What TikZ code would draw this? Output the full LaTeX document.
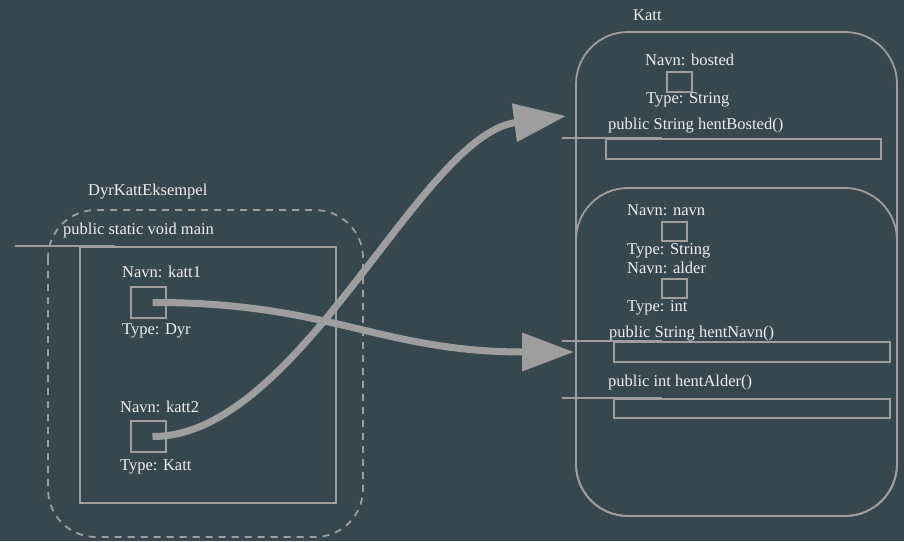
\documentclass[tikz,border=0pt]{standalone}
\usepackage{fontspec}
\setmainfont{Liberation Serif}
\usetikzlibrary{arrows.meta}
\definecolor{bgc}{HTML}{37474F}
\definecolor{linec}{HTML}{9E9E9E}
\definecolor{txtc}{HTML}{EEEEEE}
\tikzset{
  lbl/.style={anchor=base west, inner sep=0pt, text=txtc, font=\fontsize{16.5}{19}\selectfont},
  thin/.style={draw=linec, line width=1.8pt},
  varbox/.style={thin, inner sep=0pt},
  methodbox/.style={thin, inner sep=0pt, minimum width=275pt, minimum height=20pt},
  conn/.style={draw=linec, line width=7pt, -{Triangle[length=52pt,width=37pt]}},
}
\begin{document}
\begin{tikzpicture}[x=1pt,y=-1pt]
\useasboundingbox (0,0) rectangle (904,541);
\fill[bgc] (0,0) rectangle (904,541);

% Katt class
\draw[thin, rounded corners=52pt] (576,32) rectangle (897,516);
\draw[thin, rounded corners=52pt] (576,188) rectangle (897,516);
\node[lbl] (katt) at (633,20) {Katt};
\node[lbl] (nbosted) at (645,65) {Navn: bosted};
\node[varbox, minimum width=25pt, minimum height=20pt] (vbosted) at (679.5,82) {};
\node[lbl] (tbosted) at (646,103) {Type: String};
\node[lbl] (mbosted) at (608,129) {public String hentBosted()};
\node[methodbox] (bbosted) at (743.5,149) {};
\draw[thin] ([xshift=-43pt]bbosted.north west) -- ([xshift=57pt]bbosted.north west);

\node[lbl] (nnavn) at (627,215) {Navn: navn};
\node[varbox, minimum width=25pt, minimum height=19pt] (vnavn) at (674.5,231.5) {};
\node[lbl] (tnavn) at (627,254) {Type: String};
\node[lbl] (nalder) at (627,273) {Navn: alder};
\node[varbox, minimum width=25pt, minimum height=19pt] (valder) at (674.5,288.5) {};
\node[lbl] (talder) at (627,311) {Type: int};
\node[lbl] (mnavn) at (609,337) {public String hentNavn()};
\node[methodbox, minimum width=276pt] (bnavn) at (752,352) {};
\draw[thin] ([xshift=-51pt]bnavn.north west) -- ([xshift=49pt]bnavn.north west);
\node[lbl] (malder) at (608,386) {public int hentAlder()};
\node[methodbox, minimum width=276pt, minimum height=19pt] (balder) at (752,408.5) {};
\draw[thin] ([xshift=-51pt]balder.north west) -- ([xshift=49pt]balder.north west);

% DyrKattEksempel class
\draw[thin, dash pattern=on 7pt off 6pt, rounded corners=48pt] (48,210) rectangle (363,537);
\node[lbl] (dke) at (88,195) {DyrKattEksempel};
\node[lbl] (mmain) at (63,234) {public static void main};
\node[thin, inner sep=0pt, minimum width=256pt, minimum height=256pt] (bmain) at (208,375) {};
\draw[thin] ([xshift=-64pt]bmain.north west) -- ([xshift=36pt]bmain.north west);
\node[lbl] (nk1) at (122,277) {Navn: katt1};
\node[varbox, minimum width=35pt, minimum height=31pt] (k1) at (148.5,302.5) {};
\node[lbl] (tk1) at (122,334) {Type: Dyr};
\node[lbl] (nk2) at (120,412) {Navn: katt2};
\node[varbox, minimum width=35pt, minimum height=31pt] (k2) at (148.5,436.5) {};
\node[lbl] (tk2) at (120,470) {Type: Katt};

% references
\coordinate (tipn) at (574,352);
\coordinate (tipb) at (566,116);
\draw[conn] ([xshift=4pt]k1.center) .. controls (330,302) and (380,352) .. (tipn);
\draw[conn] ([xshift=4pt]k2.center) .. controls (300,437) and (420,135) .. (tipb);
\end{tikzpicture}
\end{document}
